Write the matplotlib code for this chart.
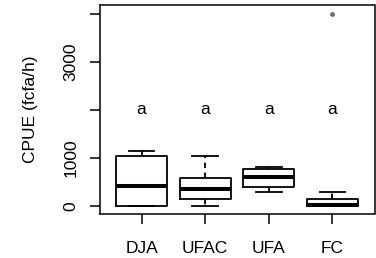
import matplotlib
matplotlib.use('Agg')
import matplotlib.pyplot as plt

# boxplot stats (fcfa/h)
groups = ['DJA', 'UFAC', 'UFA', 'FC']
whislo = [0, 0, 279, 0]
q1 = [0, 140, 383, 0]
med = [417, 348, 592, 10]
q3 = [1042, 583, 765, 140]
whishi = [1140, 1042, 800, 279]
fliers = [[], [], [], [4000]]
letters = ['a', 'a', 'a', 'a']
letter_y = 2000
yticks = [0, 1000, 2000, 3000, 4000]
ytick_labels = ['0', '1000', '', '3000', '']

plt.rcParams['font.family'] = ['Liberation Sans', 'DejaVu Sans']

fig = plt.figure(figsize=(3.76, 2.58), dpi=100)
ax = fig.add_axes([99.5 / 376, 44 / 258, 275 / 376, 209 / 258])

stats = []
for i, name in enumerate(groups):
    stats.append({'label': name, 'whislo': whislo[i], 'q1': q1[i], 'med': med[i],
                  'q3': q3[i], 'whishi': whishi[i], 'fliers': fliers[i]})

ax.bxp(stats, positions=range(1, len(groups) + 1), widths=0.8, capwidths=0.4,
       boxprops=dict(color='black', linewidth=1.3),
       medianprops=dict(color='black', linewidth=2.9, solid_capstyle='butt'),
       whiskerprops=dict(color='black', linewidth=1.3, linestyle=(0, (3, 2.5))),
       capprops=dict(color='black', linewidth=1.3),
       flierprops=dict(marker='o', markersize=2.4, markerfacecolor='#999999',
                       markeredgecolor='#444444', markeredgewidth=0.8))

for i, t in enumerate(letters):
    ax.text(i + 1, letter_y, t, ha='center', va='center', fontsize=12.5)

ax.set_xlim(0.34, 4.66)
ax.set_ylim(-173, 4181)
ax.set_yticks(yticks)
ax.set_yticklabels(ytick_labels)
ax.set_xticks(range(1, len(groups) + 1))
ax.set_xticklabels(groups)

ax.tick_params(axis='both', length=7.2, width=1.1, labelsize=12.5, color='black')
ax.tick_params(axis='x', pad=12)
ax.tick_params(axis='y', pad=8, labelrotation=90)
for lbl in ax.get_yticklabels():
    lbl.set_va('center')

ax.set_ylabel('CPUE (fcfa/h)', fontsize=12.5, labelpad=18)

for s in ax.spines.values():
    s.set_linewidth(1.1)

fig.savefig('out.png', dpi=100)
